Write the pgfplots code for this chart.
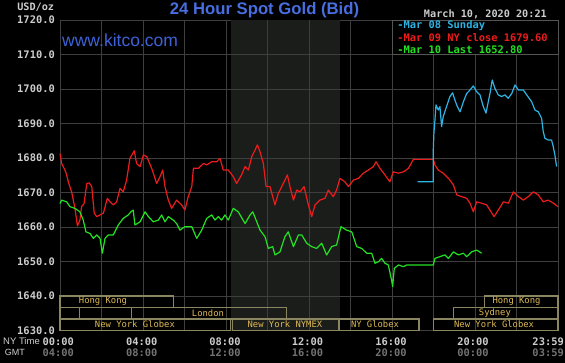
\documentclass[border=0pt]{standalone}
\usepackage{pgfplots}
\pgfplotsset{compat=1.18}
\usepackage{fontspec}
\setmainfont{Liberation Sans}
\newfontfamily\mono{DejaVu Sans Mono}
\definecolor{gridc}{RGB}{62,62,62}
\definecolor{shadec}{RGB}{27,29,27}
\definecolor{labc}{RGB}{205,205,205}
\definecolor{gmtc}{RGB}{115,115,115}
\definecolor{titlec}{RGB}{72,110,225}
\definecolor{kitc}{RGB}{62,98,216}
\definecolor{sessl}{RGB}{138,134,96}
\definecolor{sesst}{RGB}{222,186,84}
\definecolor{redc}{RGB}{236,28,28}
\definecolor{greenc}{RGB}{34,226,34}
\definecolor{cyanc}{RGB}{44,180,228}
\definecolor{legb}{RGB}{85,85,85}
\begin{document}
\begin{tikzpicture}
\path[use as bounding box] (-60pt,-32.5pt) rectangle (505pt,330.5pt);
\fill[black] (-60pt,-32.5pt) rectangle (505pt,330.5pt);
\begin{axis}[
  scale only axis, width=498pt, height=310.5pt,
  at={(0pt,0pt)}, anchor=south west,
  xmin=0, xmax=24, ymin=1630, ymax=1720,
  xtick=\empty,
  ytick={1630,1640,...,1720},
  tick style={draw=none},
  axis line style={draw=gridc, line width=0.8pt},
  clip=false,
  yticklabel style={font=\mono\bfseries\fontsize{10.4}{12}\selectfont, text=labc, anchor=east, inner sep=0pt, xshift=-5pt},
  /pgf/number format/.cd, fixed, fixed zerofill, precision=1, 1000 sep={}, assume math mode=true,
]
% shaded NYMEX session
\fill[shadec] (axis cs:8.25,1630) rectangle (axis cs:13.5,1720);
% grid
\pgfplotsinvokeforeach{2,4,...,22}{\draw[gridc, line width=0.8pt] (axis cs:#1,1630) -- (axis cs:#1,1720);}
\pgfplotsinvokeforeach{1640,1650,...,1710}{\draw[gridc, line width=0.8pt] (axis cs:0,#1) -- (axis cs:24,#1);}
% session boxes
\begin{scope}[draw=sessl, line width=1.1pt]
\draw (axis cs:0,1636.67) rectangle (axis cs:5.46,1640);
\draw (axis cs:20.45,1636.67) rectangle (axis cs:24,1640);
\draw (axis cs:0,1633.33) rectangle (axis cs:0.93,1636.67);
\draw (axis cs:3.45,1633.33) rectangle (axis cs:10.9,1636.67);
\draw (axis cs:18.96,1633.33) rectangle (axis cs:24,1636.67);
\draw (axis cs:0,1630) rectangle (axis cs:8.2,1633.33);
\draw (axis cs:8.3,1630) rectangle (axis cs:13.4,1633.33);
\draw (axis cs:13.47,1630) rectangle (axis cs:17.3,1633.33);
\draw (axis cs:18.0,1630) rectangle (axis cs:24,1633.33);
\end{scope}
\begin{scope}[every node/.style={font=\mono\fontsize{8.85}{10}\selectfont, text=sesst, inner sep=0pt}]
\node at (axis cs:2.07,1638.4) {Hong Kong};
\node at (axis cs:7.13,1635.05) {London};
\node at (axis cs:3.61,1631.7) {New York Globex};
\node at (axis cs:10.84,1631.7) {New York NYMEX};
\node at (axis cs:15.18,1631.7) {NY Globex};
\node at (axis cs:22.0,1638.4) {Hong Kong};
\node at (axis cs:20.96,1635.05) {Sydney};
\node at (axis cs:20.92,1631.7) {New York Globex};
\end{scope}
% legend box
\filldraw[fill=black, draw=legb, line width=0.8pt] (axis cs:16.03,1710) rectangle (axis cs:24,1720);
\begin{scope}[every node/.style={font=\mono\bfseries\fontsize{10.4}{12}\selectfont, inner sep=0pt, anchor=west}]
\node[text=cyanc] at (axis cs:16.25,1718.35) {-Mar 08 Sunday};
\node[text=redc] at (axis cs:16.25,1714.99) {-Mar 09 NY close 1679.60};
\node[text=greenc] at (axis cs:16.25,1711.51) {-Mar 10 Last 1652.80};
\end{scope}
% Mar 09 (red)
\addplot[redc, line width=1.2pt, line join=round] coordinates {
(0,1681.3) (0.08,1678.4) (0.24,1676.5) (0.32,1675.1) (0.40,1673.1) (0.56,1670.2) (0.72,1665.4) (0.84,1660.3) (0.96,1662.0) (1.04,1665.9) (1.16,1666.8) (1.29,1672.6) (1.41,1672.8) (1.53,1671.7) (1.65,1664.0) (1.77,1663.0) (1.93,1663.5) (2.09,1664.0) (2.28,1668.3) (2.41,1667.3) (2.57,1666.4) (2.73,1667.3) (2.89,1671.2) (3.05,1670.2) (3.21,1673.6) (3.37,1679.9) (3.58,1682.1) (3.69,1678.4) (3.86,1677.5) (4.02,1680.9) (4.18,1680.4) (4.42,1677.0) (4.66,1672.6) (4.82,1674.6) (4.95,1676.5) (5.06,1671.7) (5.22,1667.8) (5.38,1665.4) (5.62,1667.8) (5.86,1666.4) (6.02,1664.9) (6.18,1668.8) (6.35,1671.7) (6.43,1677.0) (6.67,1677.0) (6.91,1678.4) (7.07,1678.0) (7.31,1678.9) (7.55,1678.9) (7.71,1679.9) (7.87,1676.5) (8.11,1676.5) (8.35,1674.6) (8.51,1672.6) (8.75,1675.1) (8.92,1677.5) (9.08,1676.5) (9.24,1680.4) (9.40,1682.3) (9.51,1683.8) (9.64,1681.8) (9.80,1678.4) (9.93,1671.7) (10.12,1671.7) (10.25,1668.8) (10.36,1666.4) (10.52,1669.7) (10.76,1672.6) (10.96,1675.1) (11.08,1671.7) (11.25,1667.8) (11.41,1670.7) (11.57,1670.2) (11.76,1671.7) (11.97,1666.4) (12.13,1663.0) (12.29,1666.4) (12.53,1667.8) (12.77,1668.3) (12.93,1670.7) (13.17,1668.8) (13.33,1670.7) (13.49,1674.1) (13.73,1673.1) (13.90,1671.7) (14.14,1673.6) (14.38,1674.1) (14.62,1675.6) (14.86,1676.5) (15.10,1677.5) (15.23,1678.9) (15.42,1677.0) (15.66,1675.1) (15.90,1673.1) (16.06,1676.0) (16.31,1675.6) (16.55,1676.0) (16.79,1677.0) (17.03,1679.6) (17.99,1679.6) (18.07,1678.0) (18.23,1676.5) (18.47,1675.6) (18.72,1674.1) (18.96,1672.2) (19.12,1669.3) (19.36,1668.8) (19.60,1668.3) (19.76,1666.9) (19.92,1664.4) (20.08,1667.3) (20.32,1666.9) (20.56,1666.4) (20.72,1664.9) (20.92,1663.0) (21.12,1664.9) (21.37,1667.3) (21.61,1666.9) (21.85,1670.2) (22.09,1668.8) (22.33,1667.8) (22.57,1668.8) (22.81,1670.2) (23.05,1669.3) (23.29,1667.3) (23.53,1667.8) (23.78,1666.9) (24.0,1665.9)
};
% Mar 10 (green)
\addplot[greenc, line width=1.2pt, line join=round] coordinates {
(0,1666.8) (0.08,1667.8) (0.32,1667.3) (0.48,1665.9) (0.72,1665.4) (0.96,1664.4) (1.12,1662.0) (1.25,1658.6) (1.45,1658.1) (1.61,1656.7) (1.77,1657.7) (1.93,1656.7) (2.04,1652.4) (2.17,1656.7) (2.33,1657.7) (2.57,1657.7) (2.81,1660.6) (3.05,1662.5) (3.29,1663.5) (3.42,1664.4) (3.53,1664.9) (3.61,1660.6) (3.86,1661.5) (4.10,1664.4) (4.26,1663.0) (4.50,1661.5) (4.74,1662.0) (4.90,1663.5) (5.06,1661.5) (5.22,1663.0) (5.46,1662.0) (5.62,1661.0) (5.78,1659.1) (6.02,1660.1) (6.35,1660.1) (6.59,1656.7) (6.83,1659.1) (7.07,1662.5) (7.31,1663.5) (7.47,1662.0) (7.63,1663.0) (7.79,1662.0) (7.95,1663.5) (8.11,1662.0) (8.35,1665.4) (8.59,1664.4) (8.92,1661.0) (9.16,1663.5) (9.29,1664.4) (9.45,1662.0) (9.64,1659.1) (9.88,1657.2) (10.04,1653.8) (10.25,1654.3) (10.36,1651.9) (10.60,1652.8) (10.84,1657.2) (11.00,1658.6) (11.25,1654.3) (11.49,1657.7) (11.65,1657.7) (11.89,1655.3) (12.13,1654.3) (12.37,1653.8) (12.61,1655.3) (12.85,1651.9) (13.09,1654.3) (13.33,1654.8) (13.54,1660.1) (13.81,1659.1) (14.06,1658.6) (14.30,1654.3) (14.54,1653.8) (14.78,1652.4) (15.02,1652.4) (15.18,1649.5) (15.34,1649.9) (15.50,1650.9) (15.66,1649.5) (15.82,1649.0) (15.98,1644.6) (16.03,1642.7) (16.11,1648.0) (16.31,1649.0) (16.55,1648.5) (16.71,1649.0) (17.03,1649.0) (17.99,1649.0) (18.07,1650.9) (18.31,1651.4) (18.55,1651.9) (18.72,1650.9) (18.96,1652.8) (19.20,1651.9) (19.44,1652.4) (19.60,1651.4) (19.84,1652.8) (20.08,1653.3) (20.32,1652.4)
};
% Mar 08 Sunday (cyan)
\addplot[cyanc, line width=1.2pt, line join=round] coordinates {
(17.24,1673.1) (17.99,1673.1) (17.99,1682.3) (18.02,1687.2) (18.07,1691.0) (18.12,1695.4) (18.23,1693.9) (18.31,1694.9) (18.39,1689.1) (18.47,1692.0) (18.63,1694.9) (18.79,1697.8) (18.92,1698.9) (19.03,1696.8) (19.15,1694.9) (19.28,1693.4) (19.44,1696.3) (19.60,1698.7) (19.76,1699.7) (19.92,1700.9) (20.08,1699.2) (20.24,1698.3) (20.40,1694.9) (20.53,1693.0) (20.64,1696.3) (20.72,1698.7) (20.83,1702.6) (20.96,1700.2) (21.12,1698.3) (21.28,1697.8) (21.44,1698.3) (21.60,1697.3) (21.77,1698.7) (21.93,1701.2) (22.09,1699.7) (22.33,1699.7) (22.49,1698.3) (22.73,1696.3) (22.89,1693.9) (23.05,1693.4) (23.21,1691.5) (23.29,1687.6) (23.37,1685.7) (23.53,1685.2) (23.69,1685.2) (23.77,1683.3) (23.85,1680.9) (23.93,1677.5)
};
\end{axis}
% texts around the axis
\node[font=\bfseries\fontsize{16.7}{18}\selectfont, text=titlec, inner sep=0pt] at (204.5pt,320.5pt) {24 Hour Spot Gold (Bid)};
\node[font=\fontsize{17.5}{19}\selectfont, text=kitc, inner sep=0pt, anchor=west] at (2pt,290.5pt) {www.kitco.com};
\node[font=\mono\bfseries\fontsize{10.2}{12}\selectfont, text=labc, inner sep=0pt, anchor=east] at (-5.7pt,323pt) {USD/oz};
\node[font=\mono\bfseries\fontsize{10.2}{12}\selectfont, text=labc, inner sep=0pt, anchor=east] at (487pt,316.5pt) {March 10, 2020 20:21};
\begin{scope}[every node/.style={font=\mono\bfseries\fontsize{10.4}{12}\selectfont, inner sep=0pt}]
\node[text=labc] at (-1.7pt,-11pt) {00:00};
\node[text=labc] at (81.7pt,-11pt) {04:00};
\node[text=labc] at (165pt,-11pt) {08:00};
\node[text=labc] at (247.5pt,-11pt) {12:00};
\node[text=labc] at (331pt,-11pt) {16:00};
\node[text=labc] at (413pt,-11pt) {20:00};
\node[text=labc, anchor=east] at (504pt,-11pt) {23:59};
\node[text=gmtc] at (-1.7pt,-22pt) {04:00};
\node[text=gmtc] at (81.7pt,-22pt) {08:00};
\node[text=gmtc] at (165pt,-22pt) {12:00};
\node[text=gmtc] at (247.5pt,-22pt) {16:00};
\node[text=gmtc] at (331pt,-22pt) {20:00};
\node[text=gmtc] at (413pt,-22pt) {00:00};
\node[text=gmtc, anchor=east] at (504pt,-22pt) {03:59};
\end{scope}
\node[font=\fontsize{9.5}{11}\selectfont, text=labc, inner sep=0pt, anchor=east] at (-20pt,-11pt) {NY Time};
\node[font=\fontsize{9}{11}\selectfont, text=labc, inner sep=0pt, anchor=east] at (-35pt,-22pt) {GMT};
\end{tikzpicture}
\end{document}
